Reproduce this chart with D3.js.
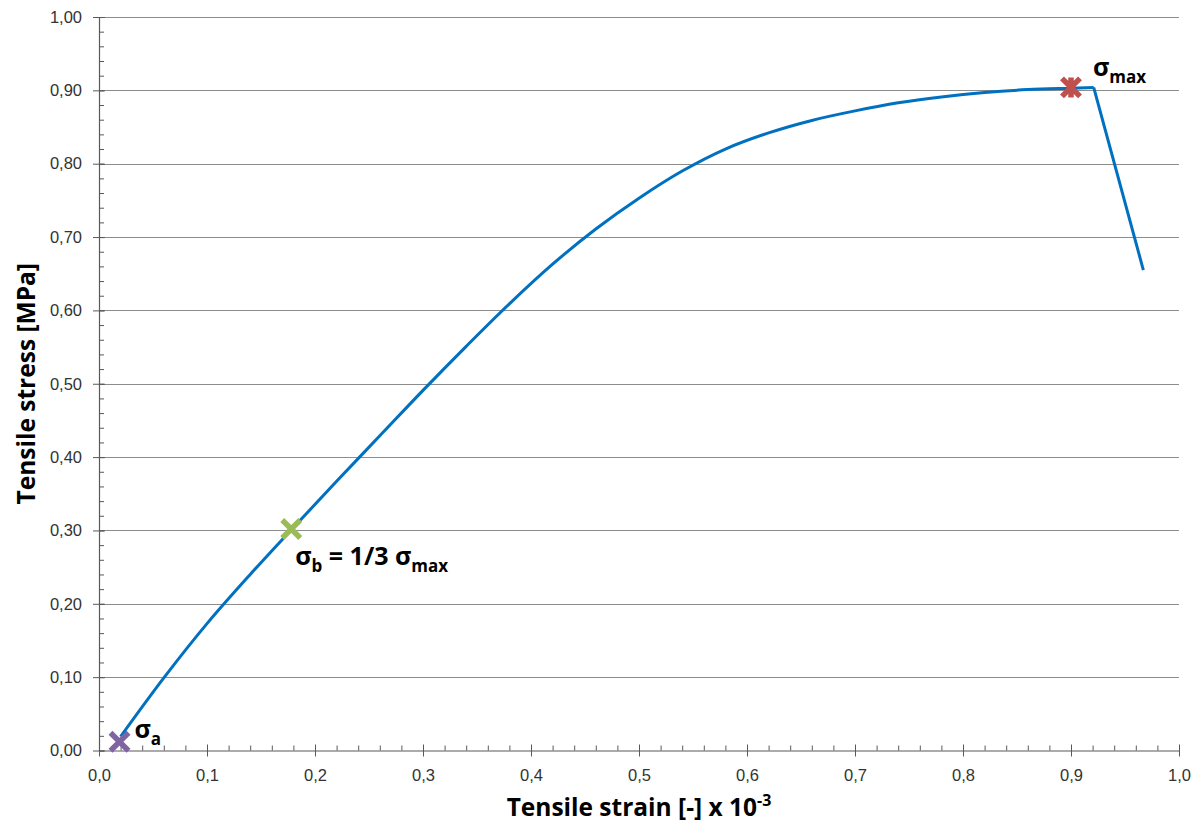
<!DOCTYPE html>
<html>
<head>
<meta charset="utf-8">
<script src="https://cdn.jsdelivr.net/npm/d3@7"></script>
<style>
  body { margin: 0; background: #fff; }
  svg { display: block; font-family: "Open Sans", "Noto Sans", sans-serif; }
  .axis path, .axis line { stroke: #595959; }
  .axis text { fill: #333; font-size: 16.5px; }
  .grid line { stroke: #8c8c8c; }
  .title { font-weight: bold; font-size: 24.5px; fill: #000; }
  .note { font-weight: bold; font-size: 25px; fill: #000; }
</style>
</head>
<body>
<div id="chart"></div>
<script>
// stress-strain curve of the tensile test
var strain = [0.020, 0.060, 0.100, 0.140, 0.180, 0.220, 0.260, 0.300, 0.340, 0.380, 0.420, 0.460,
              0.500, 0.540, 0.580, 0.620, 0.660, 0.700, 0.740, 0.780, 0.820, 0.860, 0.900, 0.921, 0.967];
var stress = [0.019, 0.099, 0.173, 0.240, 0.304, 0.367, 0.429, 0.491, 0.551, 0.609, 0.663, 0.711,
              0.753, 0.790, 0.820, 0.842, 0.859, 0.872, 0.883, 0.891, 0.897, 0.901, 0.903, 0.904, 0.655];

// marked points: sigma_a, sigma_b, sigma_max
var markStrain = [0.019, 0.178, 0.900];
var markStress = [0.012, 0.302, 0.904];

var xTicks = [0, 0.1, 0.2, 0.3, 0.4, 0.5, 0.6, 0.7, 0.8, 0.9, 1.0];
var yTicks = [0, 0.1, 0.2, 0.3, 0.4, 0.5, 0.6, 0.7, 0.8, 0.9, 1.0];

var margin = {left: 99, right: 21, top: 17, bottom: 76.5},
    width = 1200 - margin.left - margin.right,
    height = 827 - margin.top - margin.bottom;

var svg = d3.select("#chart")
    .append("svg")
    .attr("width", 1200)
    .attr("height", 827)
    .append("g")
    .attr("transform", "translate(" + margin.left + "," + margin.top + ")");

var x = d3.scaleLinear().domain([0, 1]).range([0, width]),
    y = d3.scaleLinear().domain([0, 1]).range([height, 0]);

var locale = d3.formatLocale({decimal: ",", thousands: ".", grouping: [3], currency: ["", ""]});
var fmtX = locale.format(".1f"),
    fmtY = locale.format(".2f");

// horizontal gridlines
svg.append("g")
    .attr("class", "grid")
    .selectAll("line")
    .data(yTicks.slice(1))
    .enter().append("line")
    .attr("x1", 0)
    .attr("x2", width)
    .attr("y1", function (d) { return Math.round(y(d)) + 0.5; })
    .attr("y2", function (d) { return Math.round(y(d)) + 0.5; });

// minor ticks every 0.02, pointing inwards
var minor = d3.range(0, 1.0001, 0.02);
svg.append("g")
    .attr("class", "axis")
    .attr("transform", "translate(0," + height + ")")
    .call(d3.axisBottom(x).tickValues(minor).tickSizeInner(-5).tickSizeOuter(0).tickFormat(""))
    .select(".domain").remove();
svg.append("g")
    .attr("class", "axis")
    .call(d3.axisLeft(y).tickValues(minor).tickSizeInner(-5).tickSizeOuter(0).tickFormat(""))
    .select(".domain").remove();

// major axes, ticks cross the axis line
var xAxis = svg.append("g")
    .attr("class", "axis")
    .attr("transform", "translate(0," + height + ")")
    .call(d3.axisBottom(x).tickValues(xTicks).tickSizeInner(6).tickSizeOuter(0).tickPadding(13).tickFormat(fmtX));
xAxis.selectAll(".tick line").attr("y1", -6);

var yAxis = svg.append("g")
    .attr("class", "axis")
    .call(d3.axisLeft(y).tickValues(yTicks).tickSizeInner(6).tickSizeOuter(0).tickPadding(11).tickFormat(fmtY));
yAxis.selectAll(".tick line").attr("x1", 6);

svg.selectAll(".axis .domain").attr("stroke-width", 1.2);

// axis titles
var xTitle = svg.append("text")
    .attr("class", "title")
    .attr("x", width / 2)
    .attr("y", height + 65)
    .attr("text-anchor", "middle");
xTitle.append("tspan").text("Tensile strain [-] x 10");
xTitle.append("tspan").attr("dy", -10).style("font-size", "16px").text("-3");

svg.append("text")
    .attr("class", "title")
    .attr("transform", "translate(" + (-64) + "," + (height / 2) + ") rotate(-90)")
    .attr("text-anchor", "middle")
    .text("Tensile stress [MPa]");

// the curve: smooth rise up to the peak, straight drop after it
var pts = strain.map(function (d, i) { return [d, stress[i]]; });
var rise = pts.slice(0, pts.length - 1),
    drop = pts.slice(pts.length - 2);

var smooth = d3.line()
    .curve(d3.curveCatmullRom.alpha(0.5))
    .x(function (d) { return x(d[0]); })
    .y(function (d) { return y(d[1]); });
var straight = d3.line()
    .x(function (d) { return x(d[0]); })
    .y(function (d) { return y(d[1]); });

svg.append("path")
    .datum(rise)
    .attr("d", smooth)
    .attr("fill", "none")
    .attr("stroke", "#0070c0")
    .attr("stroke-width", 3)
    .attr("stroke-linejoin", "round");
svg.append("path")
    .datum(drop)
    .attr("d", straight)
    .attr("fill", "none")
    .attr("stroke", "#0070c0")
    .attr("stroke-width", 3);

// markers
var markColor = ["#8064a2", "#9bbb59", "#c0504d"];
var s = 9;
svg.append("g")
    .selectAll("path")
    .data(markStrain)
    .enter().append("path")
    .attr("transform", function (d, i) { return "translate(" + x(d) + "," + y(markStress[i]) + ")"; })
    .attr("d", function (d, i) {
        var p = "M" + -s + "," + -s + "L" + s + "," + s + "M" + s + "," + -s + "L" + -s + "," + s;
        if (i === 2) p += "M0," + (-s - 1) + "L0," + (s + 1);
        return p;
    })
    .attr("fill", "none")
    .attr("stroke", function (d, i) { return markColor[i]; })
    .attr("stroke-width", 5.5);

// labels next to the markers
function sigma(px, py, sub, rest) {
    var t = svg.append("text")
        .attr("class", "note")
        .attr("x", px)
        .attr("y", py);
    t.append("tspan").text("σ");
    t.append("tspan").attr("dy", 7).style("font-size", "17px").text(sub);
    if (rest) {
        t.append("tspan").attr("dy", -7).text(" = 1/3 σ");
        t.append("tspan").attr("dy", 7).style("font-size", "17px").text("max");
    }
}
sigma(x(markStrain[0]) + 15, y(markStress[0]) - 4, "a");
sigma(x(markStrain[1]) + 4, y(markStress[1]) + 36, "b", true);
sigma(x(markStrain[2]) + 22, y(markStress[2]) - 11, "max");
</script>
</body>
</html>
